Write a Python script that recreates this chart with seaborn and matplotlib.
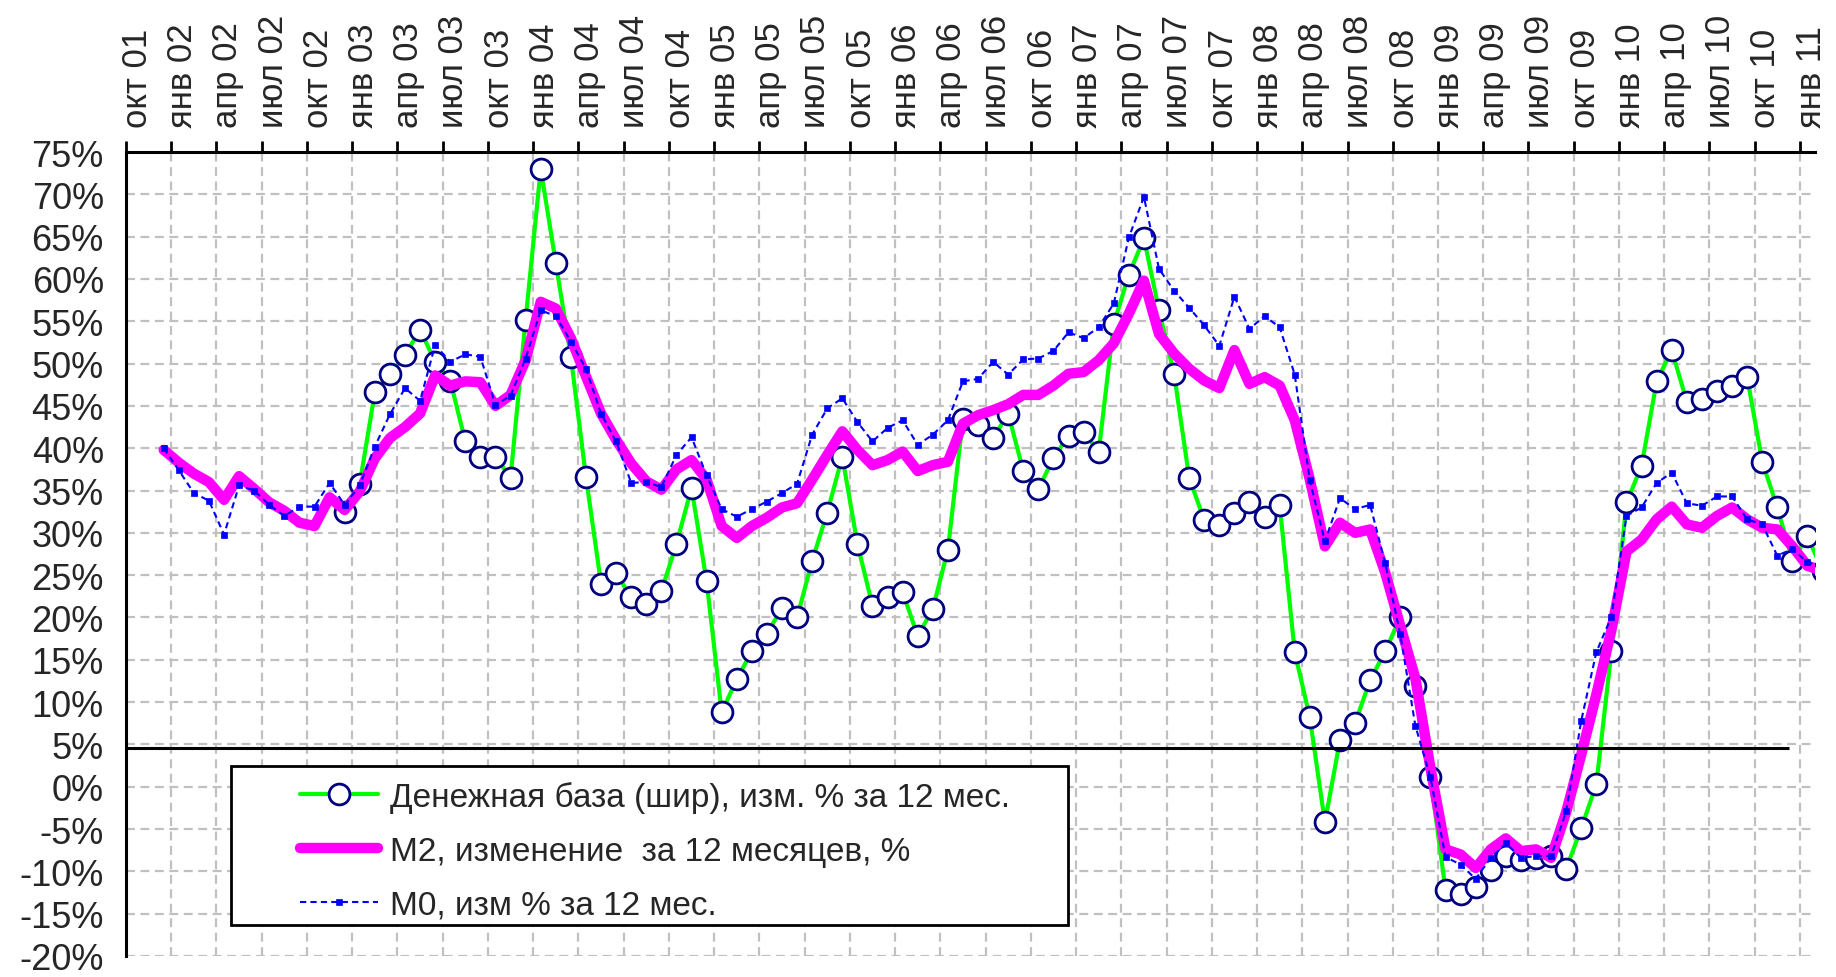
import numpy as np
import matplotlib
matplotlib.use("Agg")
import matplotlib.pyplot as plt
import seaborn as sns
from matplotlib.patches import Rectangle
from matplotlib.ticker import FixedLocator, FixedFormatter, NullFormatter

# month index 0 = окт 01; each value sits in the middle of its month slot
base_first_month = 14   # дек 02
money_first_month = 2   # дек 01
last_month_slot = 112

# Денежная база (шир), % за 12 мес. (дек 02 .. фев 11)
base_pct = [32.5, 35.8, 46.6, 48.8, 51.0, 54.0, 50.2, 48.0, 40.8, 39.0,
            39.0, 36.5, 55.2, 73.0, 61.9, 50.8, 36.6, 24.0, 25.2, 22.4,
            21.6, 23.1, 28.7, 35.3, 24.3, 8.8, 12.7, 16.0, 18.1, 21.1,
            20.0, 26.7, 32.4, 39.0, 28.7, 21.4, 22.4, 23.0, 17.8, 21.0,
            28.0, 43.5, 42.8, 41.2, 44.1, 37.3, 35.2, 38.8, 41.5, 41.9,
            39.6, 54.7, 60.5, 64.8, 56.3, 48.8, 36.5, 31.5, 30.9, 32.4,
            33.7, 31.9, 33.3, 15.9, 8.2, -4.2, 5.5, 7.5, 12.6, 16.0,
            20.0, 11.9, 1.1, -12.2, -12.7, -11.9, -9.8, -8.2, -8.6, -8.4,
            -8.2, -9.7, -4.9, 0.3, 16.0, 33.6, 37.9, 47.9, 51.6, 45.5,
            45.8, 46.8, 47.3, 48.4, 38.4, 33.0, 26.7, 29.6, 25.5]

# M2, % за 12 мес. (дек 01 .. фев 11)
m2_pct = [39.8, 38.3, 37.0, 36.0, 33.9, 36.7, 35.2, 33.6, 32.6, 31.2,
          30.8, 34.2, 32.7, 34.9, 38.8, 41.2, 42.5, 44.1, 48.6, 47.4,
          47.9, 47.8, 45.0, 46.3, 50.4, 57.3, 56.5, 53.0, 48.5, 44.1,
          41.0, 38.2, 36.1, 35.1, 37.5, 38.6, 36.3, 30.8, 29.4, 30.8,
          31.8, 33.0, 33.5, 36.3, 39.2, 42.0, 39.8, 38.0, 38.6, 39.6,
          37.3, 38.0, 38.4, 42.9, 43.9, 44.5, 45.2, 46.3, 46.3, 47.4,
          48.8, 49.0, 50.4, 52.4, 55.9, 59.8, 53.5, 51.2, 49.4, 48.0,
          47.1, 51.6, 47.6, 48.4, 47.4, 43.3, 36.3, 28.4, 31.2, 30.0,
          30.4, 25.3, 19.0, 12.8, 2.2, -7.4, -8.0, -9.6, -7.4, -6.1,
          -7.6, -7.4, -8.4, -3.0, 3.8, 10.9, 18.5, 27.8, 29.2, 31.6,
          33.1, 31.0, 30.6, 32.0, 33.0, 31.6, 30.6, 30.4, 28.4, 26.1,
          25.5]

# M0, % за 12 мес. (дек 01 .. фев 11)
m0_pct = [40.0, 37.4, 34.7, 33.8, 29.8, 35.6, 35.0, 33.3, 32.0, 33.1,
          33.1, 35.9, 33.3, 35.6, 40.2, 44.0, 47.1, 45.6, 52.2, 50.2,
          51.1, 50.8, 45.1, 46.2, 50.6, 56.3, 55.6, 52.6, 49.4, 44.1,
          40.8, 35.9, 36.0, 35.4, 39.2, 41.3, 36.8, 32.8, 31.9, 32.8,
          33.7, 34.7, 35.8, 41.6, 44.7, 45.9, 43.1, 40.8, 42.4, 43.3,
          40.4, 41.6, 43.3, 47.9, 48.2, 50.2, 48.7, 50.5, 50.6, 51.5,
          53.7, 53.0, 54.3, 57.1, 64.9, 69.7, 61.2, 58.6, 56.6, 54.5,
          52.1, 57.9, 54.1, 55.6, 54.3, 48.7, 36.2, 29.0, 34.1, 32.8,
          33.3, 26.4, 18.0, 7.2, 1.1, -8.3, -9.2, -10.9, -8.4, -6.7,
          -8.4, -8.2, -8.2, -2.9, 7.8, 15.9, 20.1, 32.0, 33.0, 35.9,
          37.1, 33.5, 33.2, 34.3, 34.3, 31.6, 31.0, 27.3, 28.1, 26.5,
          26.1]

quarter_labels = ['окт 01', 'янв 02', 'апр 02', 'июл 02', 'окт 02', 'янв 03', 'апр 03', 'июл 03',
                  'окт 03', 'янв 04', 'апр 04', 'июл 04', 'окт 04', 'янв 05', 'апр 05', 'июл 05',
                  'окт 05', 'янв 06', 'апр 06', 'июл 06', 'окт 06', 'янв 07', 'апр 07', 'июл 07',
                  'окт 07', 'янв 08', 'апр 08', 'июл 08', 'окт 08', 'янв 09', 'апр 09', 'июл 09',
                  'окт 09', 'янв 10', 'апр 10', 'июл 10', 'окт 10', 'янв 11']
quarter_months = [3 * k for k in range(len(quarter_labels))]

y_ticks = list(range(-20, 80, 5))
ref_level = 4.6      # чёрная линия
ref_line_end = 110.3

series_names = ['Денежная база (шир), изм. % за 12 мес.',
                'M2, изменение  за 12 месяцев, %',
                'M0, изм % за 12 мес.']

sns.set_style("white")
plt.rcParams['font.family'] = ['Liberation Sans', 'DejaVu Sans']

fig = plt.figure(figsize=(18.36, 9.78), dpi=100)
ax = fig.add_axes([126 / 1836, 21 / 978, 1689 / 1836, 804 / 978])

x_base = np.arange(len(base_pct)) + base_first_month + 0.5
x_money = np.arange(len(m2_pct)) + money_first_month + 0.5

sns.lineplot(x=x_base, y=base_pct, ax=ax, color='#00FF00', lw=3.0,
             marker='o', markersize=15, markerfacecolor='white',
             markeredgecolor='#000080', markeredgewidth=2.0,
             label=series_names[0], zorder=3)
sns.lineplot(x=x_money, y=m2_pct, ax=ax, color='#FF00FF', lw=7.5,
             solid_capstyle='round', solid_joinstyle='round',
             label=series_names[1], zorder=4)
sns.lineplot(x=x_money, y=m0_pct, ax=ax, color='#0000FF', lw=1.5,
             linestyle=(0, (3, 2)), marker='s', markersize=4.5,
             markerfacecolor='#0000FF', markeredgecolor='#0000FF', markeredgewidth=0.5,
             label=series_names[2], zorder=5)

ax.hlines(ref_level, 0, ref_line_end, color='black', lw=2.2, zorder=6)

ax.set_xlim(0, last_month_slot)
ax.set_ylim(-20, 75)

# ticks on top: marks at quarter boundaries, labels just right of them
ax.xaxis.set_ticks_position('top')
ax.xaxis.set_major_locator(FixedLocator(quarter_months))
ax.xaxis.set_major_formatter(NullFormatter())
ax.xaxis.set_minor_locator(FixedLocator([m + 0.75 for m in quarter_months]))
ax.xaxis.set_minor_formatter(FixedFormatter(quarter_labels))
ax.tick_params(axis='x', which='major', direction='out', length=8, width=2, color='black')
ax.tick_params(axis='x', which='minor', length=0, labeltop=True, labelbottom=False,
               labelrotation=90, labelsize=25, pad=18)

ax.set_yticks(y_ticks)
ax.set_yticklabels([f"{v}%" for v in y_ticks])
ax.tick_params(axis='y', direction='out', length=9, width=2, color='black', labelsize=26, pad=7)

ax.grid(True, which='major', color='#C0C0C0', linestyle=(0, (4, 2.5)), lw=1.6)
ax.set_axisbelow(True)

for side in ['bottom', 'right']:
    ax.spines[side].set_visible(False)
for side in ['left', 'top']:
    ax.spines[side].set_color('black')
    ax.spines[side].set_linewidth(2.2)

ax.set_xlabel('')
ax.set_ylabel('')

# legend box drawn separately so its size matches the original
frame = Rectangle((0.0622, 0.0383), 0.4955, 0.1978, transform=ax.transAxes,
                  facecolor='white', edgecolor='black', lw=2, zorder=7)
ax.add_patch(frame)
handles, labels = ax.get_legend_handles_labels()
leg = ax.legend(handles, labels, loc='center left', bbox_to_anchor=(0.093, 0.131),
                frameon=False, fontsize=24, borderpad=0, labelspacing=0.68,
                handlelength=2.35, handletextpad=0.35)
leg.set_zorder(8)

fig.savefig('out.png', dpi=100)
